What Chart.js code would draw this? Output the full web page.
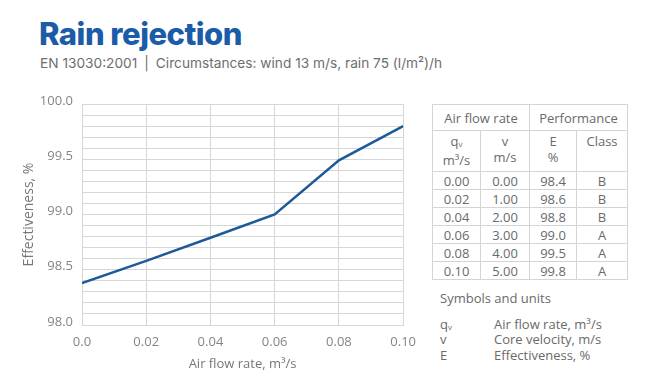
<!DOCTYPE html>
<html>
<head>
<meta charset="utf-8">
<script src="https://cdn.jsdelivr.net/npm/chart.js@4.4.1/dist/chart.umd.min.js"></script>
<style>
  html, body { margin: 0; padding: 0; background: #fff; }
  body { width: 650px; height: 382px; position: relative; overflow: hidden; font-family: "Open Sans", sans-serif; }
  #title { position: absolute; left: 39px; top: 16px; font-family: Inter, "Liberation Sans", sans-serif; font-weight: 800; font-size: 31px; letter-spacing: -0.5px; color: #1a5ca8; line-height: 36px; white-space: nowrap; }
  #subtitle { position: absolute; left: 40px; top: 54px; font-family: Inter, "Liberation Sans", sans-serif; font-size: 13.7px; color: #6e6e6e; line-height: 18px; white-space: nowrap; }
  #subtitle .sep { margin: 0 7px; }
  #chartBox { position: absolute; left: 0; top: 0; width: 425px; height: 382px; }
  #tbl { position: absolute; left: 432px; top: 104px; border-collapse: collapse; font-size: 13px; color: #6a6a6a; }
  #tbl td { border: 1px solid #d4d4d4; text-align: center; padding: 0; line-height: 16px; }
  #tbl tr.h1 td { height: 25px; }
  #tbl tr.h2 td { height: 38px; vertical-align: top; padding-top: 2px; }
  #tbl tr.d td { height: 17px; }
  #tbl sub { font-size: 8px; vertical-align: -1px; }
  #sym { position: absolute; left: 440px; top: 291px; font-size: 13px; color: #6a6a6a; line-height: 15.5px; }
  #sym .hd { margin-bottom: 10px; }
  #sym .row { position: relative; height: 15.5px; white-space: nowrap; }
  #sym .row .d { position: absolute; left: 54px; top: 0; }
  #sym sub { font-size: 8px; vertical-align: -1px; }
</style>
</head>
<body>
<div id="title">Rain rejection</div>
<div id="subtitle">EN 13030:2001<span class="sep">|</span>Circumstances: wind 13 m/s, rain 75 (l/m²)/h</div>
<div id="chartBox"><canvas id="c"></canvas></div>
<table id="tbl"></table>
<div id="sym"></div>
<script>
// ---- data ----
const airFlow = [0.00, 0.02, 0.04, 0.06, 0.08, 0.10];          // m3/s (x values)
const effectivenessLine = [98.38, 98.58, 98.79, 99.0, 99.49, 99.8]; // plotted line values
const qvText = ['0.00', '0.02', '0.04', '0.06', '0.08', '0.10'];
const vText = ['0.00', '1.00', '2.00', '3.00', '4.00', '5.00'];
const eText = ['98.4', '98.6', '98.8', '99.0', '99.5', '99.8'];
const classText = ['B', 'B', 'B', 'A', 'A', 'A'];
const xTickLabels = ['0.0', '0.02', '0.04', '0.06', '0.08', '0.10'];
const yTickLabels = ['98.0', '98.5', '99.0', '99.5', '100.0'];
const symbols = [['q<sub>v</sub>', 'Air flow rate, m³/s'], ['v', 'Core velocity, m/s'], ['E', 'Effectiveness, %']];

// ---- table ----
let html = '<tr class="h1"><td colspan="2" style="width:96px">Air flow rate</td><td colspan="2">Performance</td></tr>';
html += '<tr class="h2"><td style="width:47px">q<sub>v</sub><br>m³/s</td><td style="width:48px">v<br>m/s</td><td style="width:46px">E<br>%</td><td style="width:50px">Class</td></tr>';
for (let i = 0; i < qvText.length; i++) {
  html += '<tr class="d"><td>' + qvText[i] + '</td><td>' + vText[i] + '</td><td>' + eText[i] + '</td><td>' + classText[i] + '</td></tr>';
}
document.getElementById('tbl').innerHTML = html;

let sh = '<div class="hd">Symbols and units</div>';
symbols.forEach(s => { sh += '<div class="row"><span>' + s[0] + '</span><span class="d">' + s[1] + '</span></div>'; });
document.getElementById('sym').innerHTML = sh;

// ---- chart ----
const gridColor = '#d6d6d6';
new Chart(document.getElementById('c'), {
  type: 'line',
  data: {
    datasets: [{
      data: airFlow.map((x, i) => ({ x: x, y: effectivenessLine[i] })),
      borderColor: '#1c5a99',
      borderWidth: 2.5,
      pointRadius: 0,
      tension: 0,
      fill: false
    }]
  },
  options: {
    responsive: true,
    maintainAspectRatio: false,
    animation: false,
    layout: { padding: { top: 104, right: 12, left: 0, bottom: 0 } },
    plugins: { legend: { display: false }, tooltip: { enabled: false } },
    scales: {
      x: {
        type: 'linear', min: 0, max: 0.1,
        grid: { color: gridColor, drawTicks: false },
        border: { color: gridColor },
        ticks: {
          stepSize: 0.02, padding: 9, color: '#858585',
          font: { family: 'Open Sans', size: 13 },
          callback: (v, i) => xTickLabels[i]
        },
        title: { display: true, text: 'Air flow rate, m³/s', color: '#777', font: { family: 'Open Sans', size: 13 }, padding: { top: 4, bottom: 10 } },
        afterFit: s => { s.height = 57; }
      },
      y: {
        min: 98, max: 100,
        grid: { color: gridColor, drawTicks: false },
        border: { color: gridColor },
        ticks: {
          stepSize: 0.1, autoSkip: false, padding: 9, color: '#858585', labelOffset: -3,
          font: { family: 'Open Sans', size: 13 },
          callback: (v, i) => (i % 5 === 0 ? yTickLabels[i / 5] : '')
        },
        title: { display: true, text: 'Effectiveness, %', color: '#777', font: { family: 'Open Sans', size: 14 }, padding: { top: 21 } },
        afterFit: s => { s.width = 82; }
      }
    }
  }
});
</script>
</body>
</html>
